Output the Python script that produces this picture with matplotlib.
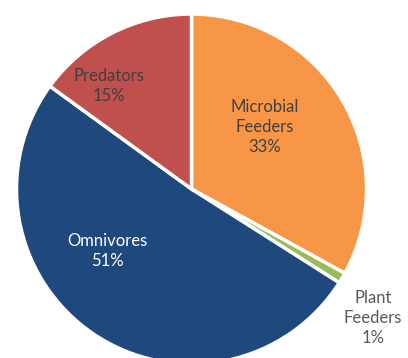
import matplotlib.pyplot as plt

# feeding groups and their shares (%)
groups = ['Microbial\nFeeders', 'Plant\nFeeders', 'Omnivores', 'Predators']
shares = [33, 1, 51, 15]
colors = ['#F79646', '#9BBB59', '#1F497D', '#C0504D']
text_colors = ['#404040', '#595959', 'white', '#404040']

plt.rcParams['font.family'] = ['Lato', 'DejaVu Sans']

fig = plt.figure(figsize=(4.08, 3.58), dpi=100)
ax = fig.add_axes([0, 0, 1, 1])

wedges, _ = ax.pie(shares, colors=colors, startangle=90, counterclock=False,
                   center=(191.5, 169), radius=175, frame=True,
                   wedgeprops=dict(edgecolor='white', linewidth=2.5))
ax.set_xlim(0, 408)
ax.set_ylim(0, 358)
ax.set_aspect('equal')
ax.axis('off')

# label anchor points (pixels from top-left)
label_xy = [(265, 127), (373, 318), (107, 251), (109, 86)]
for name, val, tc, (x, y) in zip(groups, shares, text_colors, label_xy):
    ax.text(x, 358 - y, f'{name}\n{val}%', ha='center', va='center',
            color=tc, fontsize=12, linespacing=1.3)

fig.savefig('out.png', dpi=100)
